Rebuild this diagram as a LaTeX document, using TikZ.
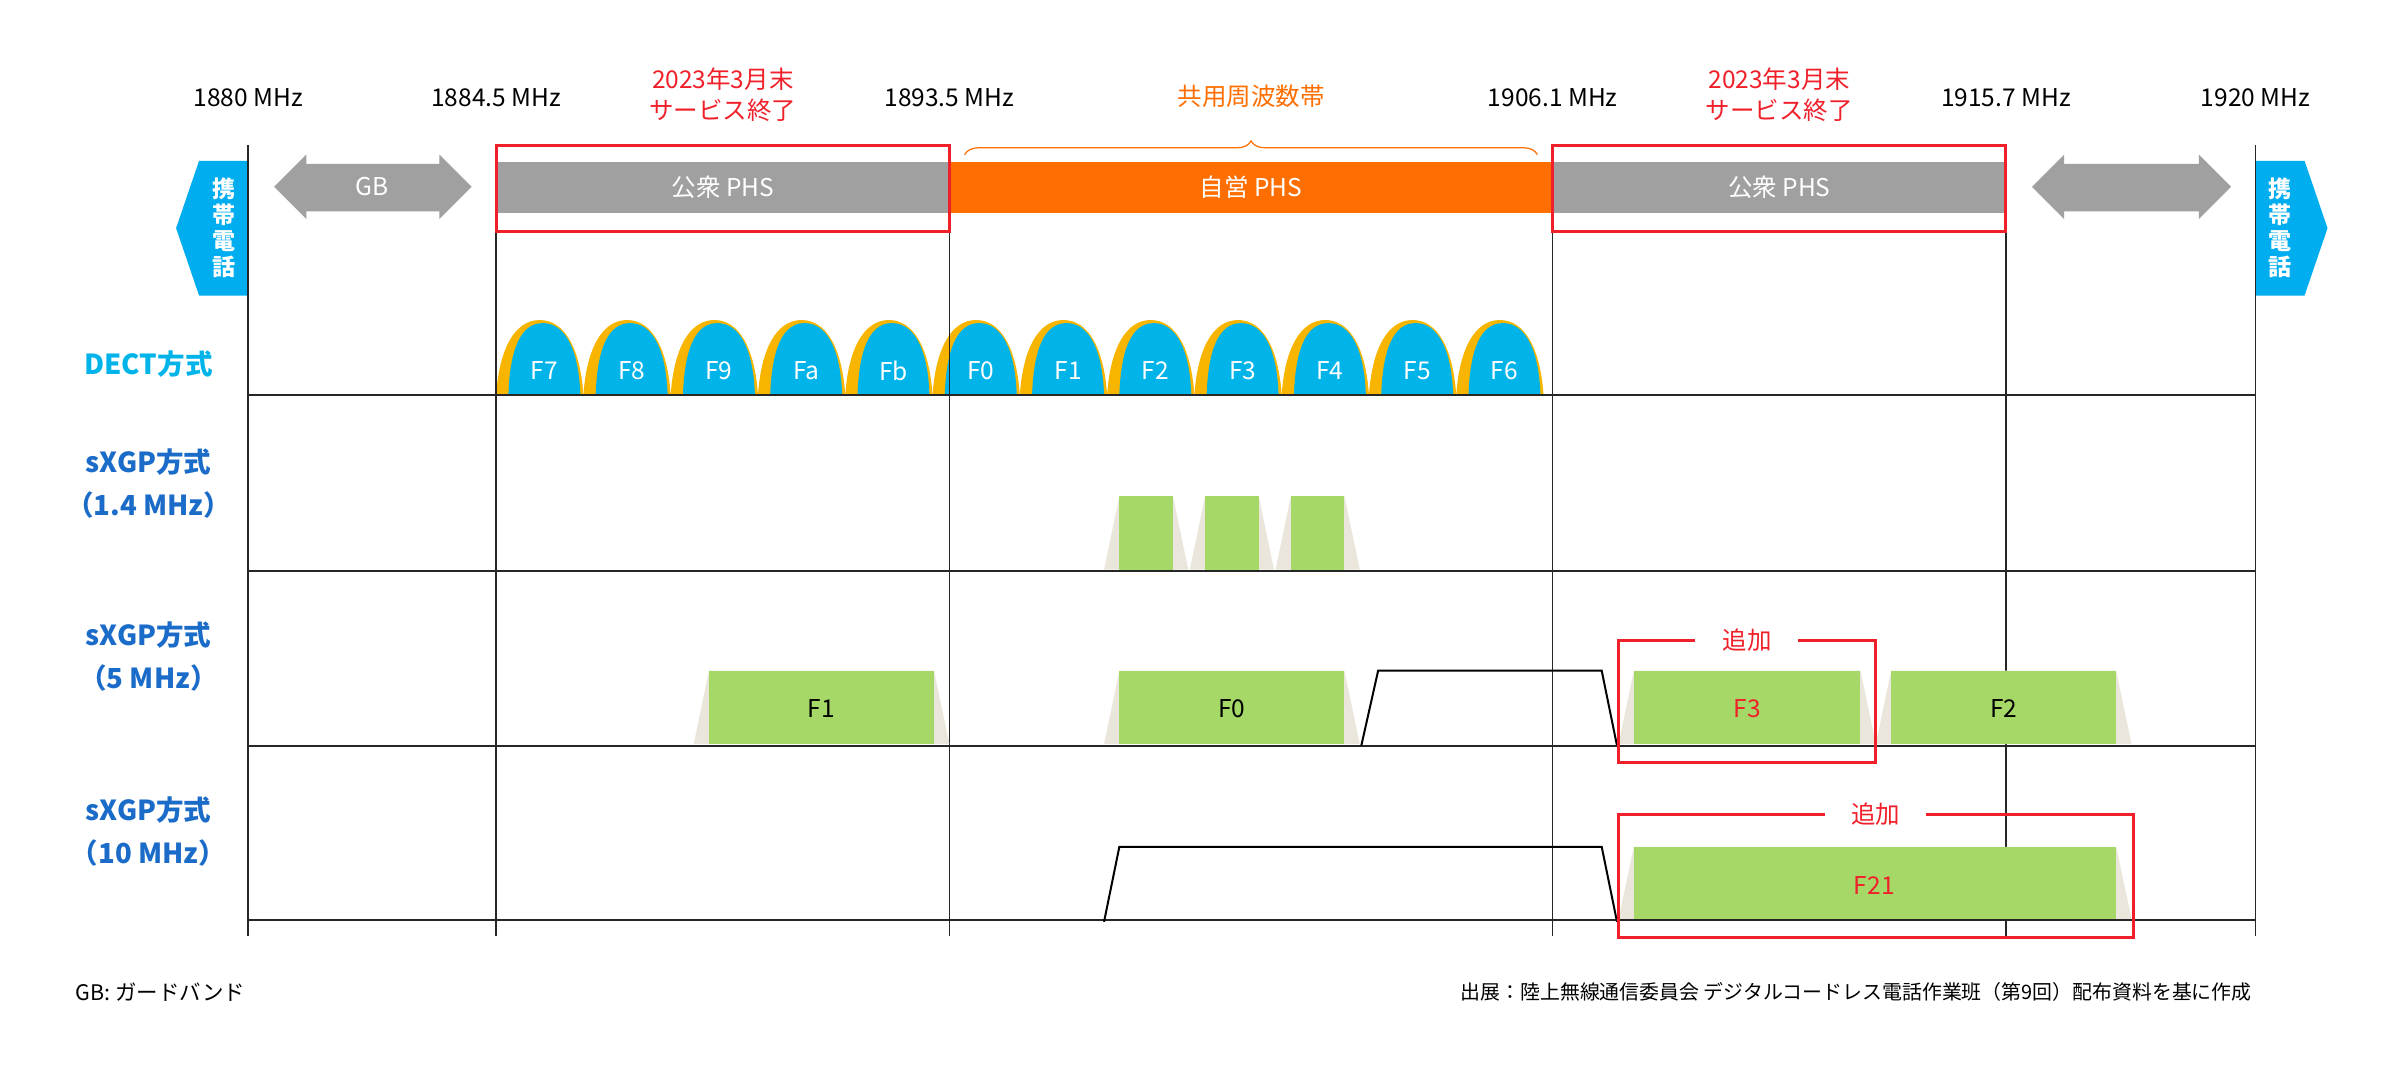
\documentclass[tikz,border=0pt]{standalone}
\usepackage{fontspec}
\setmainfont{Noto Sans CJK JP}
\usetikzlibrary{decorations.pathreplacing}
\definecolor{gbar}{HTML}{A0A0A0}
\definecolor{orng}{HTML}{FF6E00}
\definecolor{rd}{HTML}{F0202A}
\definecolor{tabblue}{HTML}{00AEEF}
\definecolor{dblue}{HTML}{00B4EA}
\definecolor{dyel}{HTML}{F8B500}
\definecolor{grn}{HTML}{A5D867}
\definecolor{beige}{HTML}{EAE6DC}
\definecolor{rowblue}{HTML}{1A6CC8}
\begin{document}
\begin{tikzpicture}[x=1pt,y=-1pt,
  freq/.style={font=\fontsize{16}{18}\selectfont},
  redt/.style={text=rd,font=\fontsize{16}{20}\selectfont,align=center},
  bartxt/.style={text=white,font=\fontsize{16}{18}\selectfont},
  rowlab/.style={text=rowblue,font=\bfseries\fontsize{18}{28}\selectfont,align=center},
  grid/.style={draw=black!85,line width=1pt},
  hgrid/.style={draw=black!85,line width=1.5pt},
  redbox/.style={draw=rd,line width=2pt},
  ftxt/.style={font=\fontsize{16}{18}\selectfont}]
\useasboundingbox (0,0) rectangle (1568,706);
% frequency labels
\foreach \x/\t/\n in {162/1880/fa,324/1884.5/fb,620/1893.5/fc,1014/1906.1/fd,1310/1915.7/fe,1473/1920/ff}
  \node[freq] (\n) at (\x,64) {\t\ MHz};
\node[redt] (endL) at (472,62) {2023年3月末\\サービス終了};
\node[redt] (endR) at (1162,62) {2023年3月末\\サービス終了};
\node[text=orng,font=\fontsize{16}{18}\selectfont] (share) at (817,63) {共用周波数帯};
\draw[orng,line width=0.8pt,decorate,decoration={brace,amplitude=9pt}] (630,101) -- (1004,101);
% bars
\fill[gbar] (324,106) rectangle (620,139);
\node[bartxt] (pubL) at (472,122) {公衆 PHS};
\fill[orng] (620,106) rectangle (1014,139);
\node[bartxt] (priv) at (817,122) {自営 PHS};
\fill[gbar] (1014,106) rectangle (1310,139);
\node[bartxt] (pubR) at (1162,122) {公衆 PHS};
% GB arrows
\fill[gbar] (179,122) -- (200,101) -- (200,107) -- (287,107) -- (287,101) -- (308,122) -- (287,143) -- (287,138) -- (200,138) -- (200,143) -- cycle;
\node[bartxt] (gb) at (243,122) {GB};
\fill[gbar] (1327,122) -- (1348,101) -- (1348,107) -- (1436,107) -- (1436,101) -- (1457,122) -- (1436,143) -- (1436,138) -- (1348,138) -- (1348,143) -- cycle;
% mobile tabs
\fill[tabblue] (130,105) -- (162,105) -- (162,193) -- (130,193) -- (115,149) -- cycle;
\node[text=white,font=\bfseries\fontsize{15}{17}\selectfont,align=center] (mobL) at (146,149) {携\\帯\\電\\話};
\fill[tabblue] (1473,105) -- (1505,105) -- (1520,149) -- (1505,193) -- (1473,193) -- cycle;
\node[text=white,font=\bfseries\fontsize{15}{17}\selectfont,align=center] (mobR) at (1489,149) {携\\帯\\電\\話};
% DECT arches
\foreach \i/\t in {0/F7,1/F8,2/F9,3/Fa,4/Fb,5/F0,6/F1,7/F2,8/F3,9/F4,10/F5,11/F6}{
  \pgfmathsetmacro{\xa}{324+57*\i}
  \pgfmathsetmacro{\xb}{\xa+57}
  \pgfmathsetmacro{\xm}{\xa+28.5}
  \fill[dyel] (\xa,258) .. controls (\xa+2,228) and (\xa+12,209) .. (\xm,209) .. controls (\xb-12,209) and (\xb-2,228) .. (\xb,258) -- cycle;
  \fill[dblue] (\xa+8,258) .. controls (\xa+9,228) and (\xa+16,211) .. (\xm+2,211) .. controls (\xb-12,211) and (\xb-3,228) .. (\xb-2,258) -- cycle;
  \node[ftxt,text=white] (d\i) at (\xm+3,242) {\t};
}
% grid
\foreach \x in {162,324,620,1014,1310,1473} \draw[grid] (\x,95) -- (\x,611);
\foreach \y in {258,373,487,601} \draw[hgrid] (162,\y) -- (1473,\y);
% row labels
\node[text=dblue,font=\bfseries\fontsize{18}{20}\selectfont] (lDECT) at (97,238) {DECT方式};
\node[rowlab] (l14) at (97,316) {sXGP方式\\（1.4 MHz）};
\node[rowlab] (l5) at (97,429) {sXGP方式\\（5 MHz）};
\node[rowlab] (l10) at (97,543) {sXGP方式\\（10 MHz）};
% 1.4 MHz blocks
\foreach \a/\b in {731/766,787/822,843/878}{
  \fill[beige] (\a-10,372) -- (\a,324) -- (\b,324) -- (\b+10,372) -- cycle;
  \fill[grn] (\a,324) rectangle (\b,372);
}
% 5 MHz blocks
\foreach \a/\b/\t/\n/\c in {463/610/F1/s1/black,731/878/F0/s0/black,1067/1215/F3/s3/rd,1235/1382/F2/s2/black}{
  \fill[beige] (\a-10,486) -- (\a,438) -- (\b,438) -- (\b+10,486) -- cycle;
  \fill[grn] (\a,438) rectangle (\b,486);
  \node[ftxt,text=\c] (\n) at ({(\a+\b)/2},463) {\t};
}
\draw[line width=1.3pt] (889,487) -- (900,438) -- (1046,438) -- (1056,487);
% 10 MHz
\fill[beige] (1057,600) -- (1067,553) -- (1382,553) -- (1392,600) -- cycle;
\fill[grn] (1067,553) rectangle (1382,600);
\node[ftxt,text=rd] (s21) at (1224,578) {F21};
\draw[line width=1.3pt] (721,602) -- (731,553) -- (1046,553) -- (1056,602);
\foreach \y in {487,601} \draw[hgrid] (1014,\y) -- (1473,\y);
% red boxes
\draw[redbox] (324,95) rectangle (620,151);
\draw[redbox] (1014,95) rectangle (1310,151);
\draw[redbox] (1107,418) -- (1057,418) -- (1057,498) -- (1225,498) -- (1225,418) -- (1174,418);
\node[redt] (add1) at (1141,418) {追加};
\draw[redbox] (1192,532) -- (1057,532) -- (1057,612) -- (1393,612) -- (1393,532) -- (1258,532);
\node[redt] (add2) at (1225,532) {追加};
% footer
\node[anchor=west,font=\fontsize{14}{16}\selectfont] (gbnote) at (46,648) {GB: ガードバンド};
\node[anchor=east,font=\fontsize{13}{16}\selectfont] (src) at (1474,648) {出展：陸上無線通信委員会 デジタルコードレス電話作業班（第9回）配布資料を基に作成};
\end{tikzpicture}
\end{document}
